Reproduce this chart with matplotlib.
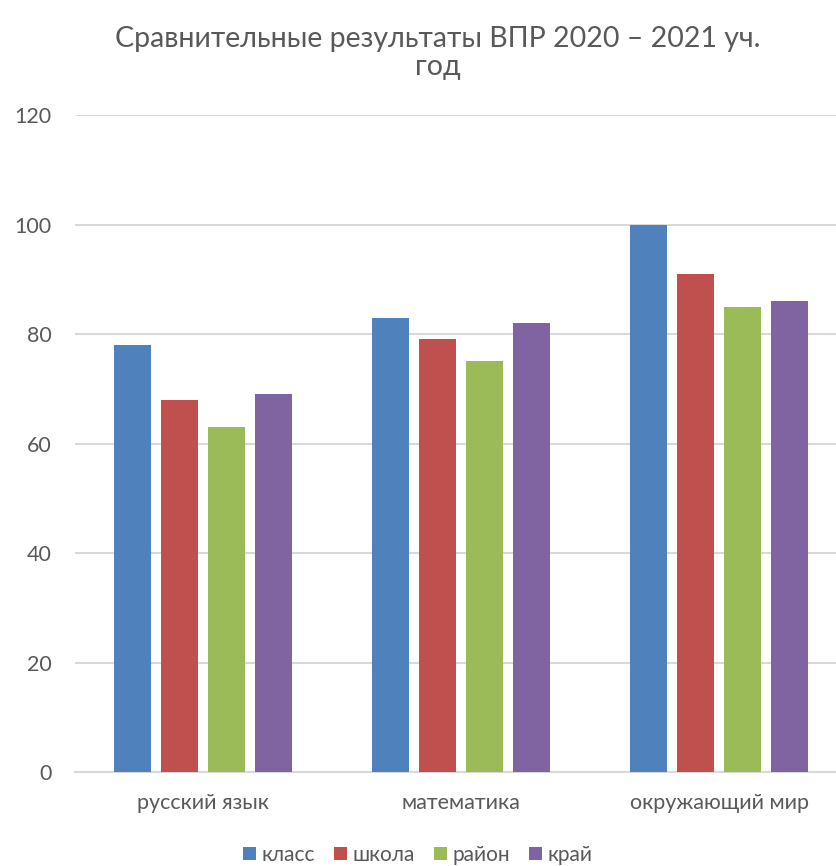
import matplotlib.pyplot as plt
import numpy as np

# data
subjects = ["русский язык", "математика", "окружающий мир"]
series_names = ["класс", "школа", "район", "край"]
klass = [78, 83, 100]
shkola = [68, 79, 91]
raion = [63, 75, 85]
krai = [69, 82, 86]
yticks = [0, 20, 40, 60, 80, 100, 120]

colors = ["#4F81BD", "#C0504D", "#9BBB59", "#8064A2"]
text_color = "#595959"

plt.rcParams['font.family'] = ['Lato', 'DejaVu Sans']

fig = plt.figure(figsize=(8.36, 8.66), dpi=100)
ax = fig.add_axes([0.0897, 0.1085, 0.9103, 0.7587])

x = np.arange(len(subjects))
width = 0.143
pitch = 0.182
for i, (name, vals) in enumerate(zip(series_names, [klass, shkola, raion, krai])):
    ax.bar(x + (i - 1.5) * pitch, vals, width=width, color=colors[i],
           label=name, zorder=3)

ax.set_xlim(-0.496, 2.453)
ax.set_ylim(0, 120)
ax.set_yticks(yticks)
ax.set_xticks(x)
ax.set_xticklabels(subjects)
ax.tick_params(axis='both', length=0, colors=text_color, labelsize=15.5)
ax.tick_params(axis='y', pad=17)
ax.tick_params(axis='x', pad=15)

for s in ['top', 'right', 'left']:
    ax.spines[s].set_visible(False)
ax.spines['bottom'].set_color('#d9d9d9')
ax.spines['bottom'].set_linewidth(1.5)
ax.yaxis.grid(True, color='#d9d9d9', linewidth=1.5, zorder=0)
ax.set_axisbelow(True)

fig.text(0.524, 0.955, "Сравнительные результаты ВПР 2020 – 2021 уч.", ha='center',
         va='center', fontsize=20.5, color=text_color)
fig.text(0.524, 0.923, "год", ha='center', va='center', fontsize=20.5, color=text_color)

fig.legend(loc='center', bbox_to_anchor=(0.5, 0.013), ncol=4, frameon=False,
           fontsize=15, labelcolor=text_color, handlelength=0.6, handleheight=0.6,
           handletextpad=0.3, columnspacing=0.9)

fig.savefig("out.png", dpi=100)
